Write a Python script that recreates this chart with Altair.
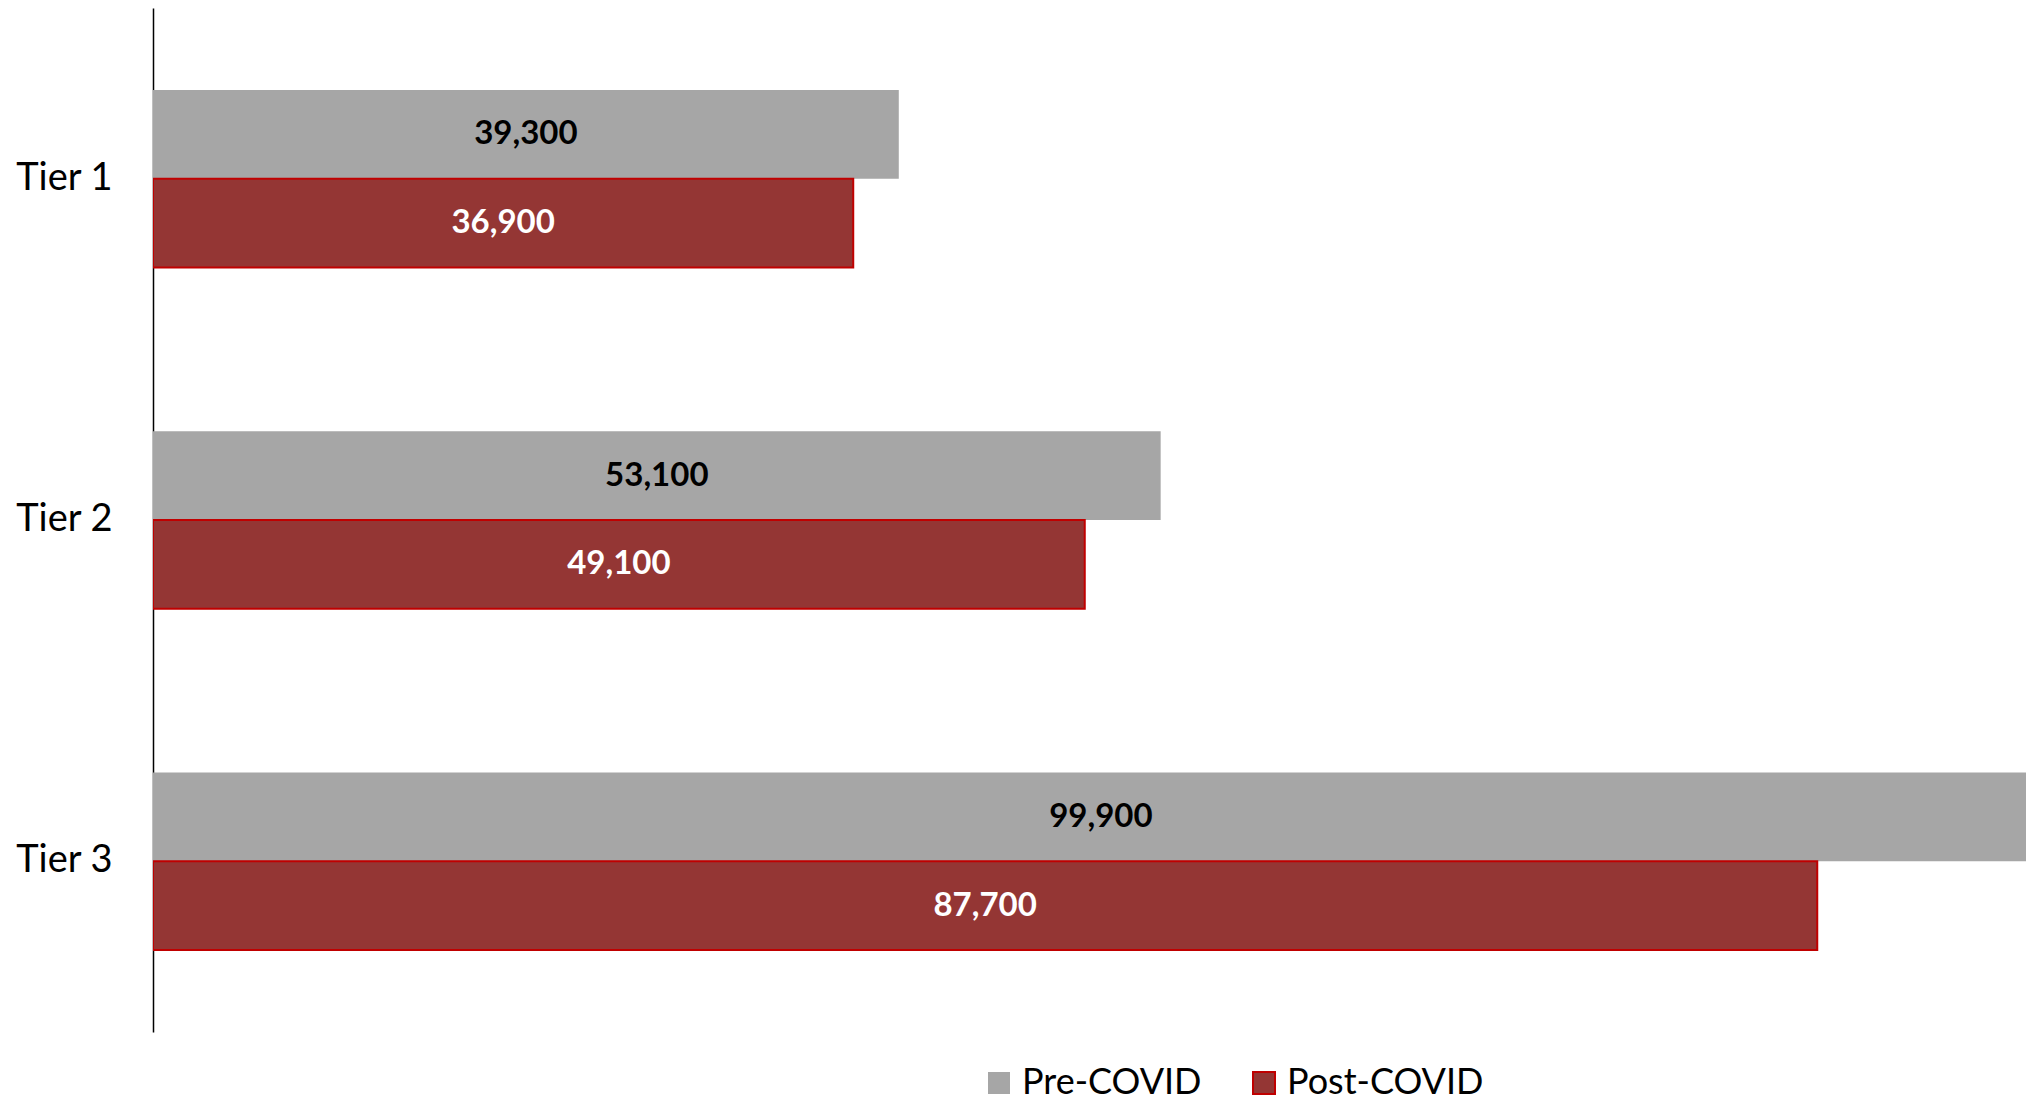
import altair as alt
import pandas as pd

tiers = ["Tier 1", "Tier 2", "Tier 3"]
periods = ["Pre-COVID", "Post-COVID"]
pre_covid = [39300, 53100, 99900]
post_covid = [36900, 49100, 87700]

rows = []
for t, a, b in zip(tiers, pre_covid, post_covid):
    rows.append({"tier": t, "period": "Pre-COVID", "value": a})
    rows.append({"tier": t, "period": "Post-COVID", "value": b})
df = pd.DataFrame(rows)

xscale = alt.Scale(domain=[0, 98700], nice=False, zero=True)
y = alt.Y(
    "tier:N",
    sort=tiers,
    scale=alt.Scale(paddingInner=0.48, paddingOuter=0.24),
    axis=alt.Axis(
        title=None, ticks=False, labelPadding=41, labelFontSize=38,
        labelFont="Lato", labelColor="black", domainColor="black",
        domainWidth=1.5, labelAlign="right", grid=False,
    ),
)
yoff = alt.YOffset("period:N", sort=periods,
                   scale=alt.Scale(domain=periods, paddingInner=0, paddingOuter=0))

legend_opts = dict(
    title=None, orient="none", legendX=828, legendY=1057,
    direction="horizontal", symbolType="square", symbolSize=484,
    labelFontSize=36, labelFont="Lato", labelColor="black", labelLimit=1000,
    columnPadding=44, labelOffset=5, symbolStrokeWidth=2,
    padding=0, symbolOpacity=1,
)

bars = alt.Chart(df).mark_bar(clip=True, strokeWidth=2).encode(
    x=alt.X("value:Q", scale=xscale, axis=None),
    y=y,
    yOffset=yoff,
    color=alt.Color(
        "period:N",
        scale=alt.Scale(domain=periods, range=["#A6A6A6", "#943634"]),
        legend=alt.Legend(**legend_opts),
    ),
    stroke=alt.Stroke(
        "period:N",
        scale=alt.Scale(domain=periods, range=["transparent", "#C00000"]),
        legend=alt.Legend(**legend_opts),
    ),
)

labels = alt.Chart(df).transform_calculate(mid="datum.value / 2").mark_text(
    font="Lato", fontWeight="bold", fontSize=33, baseline="middle", align="center"
).encode(
    x=alt.X("mid:Q", scale=xscale, axis=None),
    y=y,
    yOffset=yoff,
    text=alt.Text("value:Q", format=","),
    color=alt.condition("datum.period == 'Pre-COVID'", alt.value("black"), alt.value("white")),
)

chart = alt.layer(bars, labels).properties(
    width=1873, height=1024,
    autosize=alt.AutoSizeParams(type="none"),
    padding={"left": 145, "top": 0, "right": 0, "bottom": 75},
).configure_view(strokeWidth=0)

chart.save("out.html", embed_options={"renderer": "svg", "actions": False})
